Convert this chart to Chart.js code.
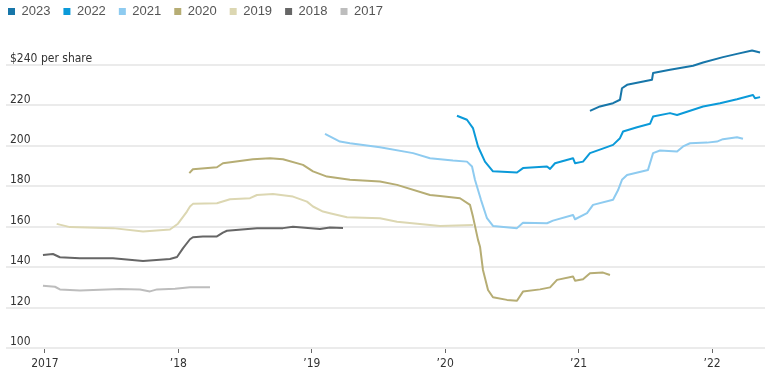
<!DOCTYPE html>
<html>
<head>
<meta charset="utf-8">
<script src="https://cdn.jsdelivr.net/npm/chart.js@4/dist/chart.umd.min.js"></script>
<style>
  html, body { margin: 0; padding: 0; background: #ffffff; overflow: hidden; width: 768px; height: 373px; }
  #wrap { position: absolute; left: -5px; top: -8px; width: 773px; height: 381px; }
</style>
</head>
<body>
<div id="wrap"><canvas id="c" width="773" height="381"></canvas></div>
<script>
// ---- Data (x = decimal year, y = $ per share) ----
const seriesNames = ['2023', '2022', '2021', '2020', '2019', '2018', '2017'];
const seriesColors = ['#1776a9', '#0b9ad9', '#8ecbf0', '#b6ad74', '#dcd7b2', '#666666', '#bdbdbd'];

const years2017 = [2016.985, 2017.075, 2017.112, 2017.262, 2017.412, 2017.562, 2017.712, 2017.787, 2017.84, 2017.975, 2018.087, 2018.237];
const values2017 = [130.8, 130.3, 129.0, 128.4, 128.8, 129.2, 128.9, 128.0, 129.0, 129.3, 130.0, 130.0];

const years2018 = [2016.985, 2017.06, 2017.112, 2017.262, 2017.51, 2017.735, 2017.937, 2017.99, 2018.034, 2018.087, 2018.109, 2018.184, 2018.289, 2018.334, 2018.364, 2018.589, 2018.784, 2018.859, 2019.061, 2019.136, 2019.234];
const values2018 = [146.0, 146.5, 144.9, 144.4, 144.4, 143.0, 144.0, 145.0, 149.3, 153.8, 154.8, 155.1, 155.2, 157.1, 158.0, 159.3, 159.3, 160.0, 158.9, 159.6, 159.4];

const years2019 = [2017.088, 2017.187, 2017.51, 2017.735, 2017.937, 2017.997, 2018.064, 2018.087, 2018.109, 2018.289, 2018.387, 2018.537, 2018.589, 2018.709, 2018.859, 2018.964, 2019.009, 2019.084, 2019.136, 2019.264, 2019.511, 2019.639, 2019.886, 2019.961, 2020.208];
const values2019 = [161.4, 159.8, 159.3, 157.6, 158.6, 161.5, 167.5, 170.0, 171.3, 171.6, 173.6, 174.1, 175.7, 176.2, 174.9, 172.4, 170.0, 167.5, 166.7, 164.7, 164.2, 162.5, 160.9, 160.4, 160.9];

const years2020 = [2018.082, 2018.109, 2018.289, 2018.334, 2018.559, 2018.687, 2018.784, 2018.934, 2019.009, 2019.114, 2019.286, 2019.511, 2019.639, 2019.886, 2019.961, 2020.111, 2020.186, 2020.208, 2020.246, 2020.261, 2020.283, 2020.321, 2020.358, 2020.463, 2020.538, 2020.583, 2020.711, 2020.786, 2020.838, 2020.958, 2020.973, 2021.033, 2021.085, 2021.183, 2021.235];
const values2020 = [186.5, 188.4, 189.4, 191.4, 193.4, 193.9, 193.4, 190.6, 187.4, 184.8, 183.2, 182.4, 180.7, 175.7, 175.2, 174.1, 170.8, 165.0, 153.5, 150.1, 138.6, 128.7, 125.1, 123.8, 123.4, 127.9, 129.0, 130.0, 133.7, 135.4, 133.3, 134.0, 137.0, 137.3, 136.1];

const years2021 = [2019.099, 2019.211, 2019.286, 2019.511, 2019.759, 2019.886, 2020.058, 2020.163, 2020.201, 2020.223, 2020.268, 2020.313, 2020.358, 2020.538, 2020.583, 2020.763, 2020.808, 2020.958, 2020.973, 2021.063, 2021.108, 2021.258, 2021.295, 2021.325, 2021.363, 2021.52, 2021.558, 2021.61, 2021.738, 2021.783, 2021.835, 2021.963, 2022.037, 2022.082, 2022.187, 2022.232];
const values2021 = [205.9, 202.1, 201.3, 199.3, 196.4, 193.9, 192.7, 192.2, 189.8, 183.2, 173.3, 164.2, 160.4, 159.3, 162.0, 161.7, 163.0, 165.8, 163.7, 166.7, 170.8, 173.3, 178.0, 183.2, 185.6, 188.1, 196.4, 197.7, 197.2, 199.7, 201.3, 201.6, 202.1, 203.3, 204.3, 203.5];

const years2022 = [2020.088, 2020.163, 2020.208, 2020.246, 2020.298, 2020.358, 2020.538, 2020.583, 2020.763, 2020.786, 2020.823, 2020.958, 2020.973, 2021.033, 2021.085, 2021.175, 2021.258, 2021.31, 2021.333, 2021.438, 2021.535, 2021.558, 2021.685, 2021.738, 2021.933, 2022.06, 2022.187, 2022.307, 2022.322, 2022.36];
const values2022 = [214.9, 212.9, 208.8, 199.7, 192.2, 187.4, 186.8, 189.0, 189.8, 188.6, 191.4, 193.9, 191.4, 192.2, 196.4, 198.5, 200.5, 203.8, 207.1, 209.2, 210.9, 214.5, 216.2, 215.3, 219.5, 221.1, 223.1, 225.2, 223.6, 224.1];

const years2023 = [2021.085, 2021.16, 2021.258, 2021.31, 2021.325, 2021.363, 2021.55, 2021.558, 2021.685, 2021.858, 2021.933, 2022.082, 2022.187, 2022.3, 2022.36];
const values2023 = [217.3, 219.5, 221.1, 222.8, 228.5, 230.2, 232.7, 236.0, 237.6, 239.6, 241.2, 243.9, 245.5, 247.2, 246.2];

const xTickValues = [2017, 2018, 2019, 2020, 2021, 2022];
const xTickLabels = ['2017', '\u201918', '\u201919', '\u201920', '\u201921', '\u201922'];
const yTickValues = [100, 120, 140, 160, 180, 200, 220, 240];
const yTickLabels = ['100', '120', '140', '160', '180', '200', '220', '$240 per share'];

const seriesYears = [years2023, years2022, years2021, years2020, years2019, years2018, years2017];
const seriesValues = [values2023, values2022, values2021, values2020, values2019, values2018, values2017];

const datasets = seriesNames.map((name, i) => ({
  label: name,
  data: seriesYears[i].map((x, j) => ({ x: x, y: seriesValues[i][j] })),
  borderColor: seriesColors[i],
  backgroundColor: seriesColors[i],
  borderWidth: 2,
  pointRadius: 0,
  pointHoverRadius: 0,
  tension: 0,
  borderJoinStyle: 'round',
  fill: false,
  clip: false
}));

const narrow = '"Liberation Sans Narrow", "DejaVu Sans Condensed", "Liberation Sans", sans-serif';

new Chart(document.getElementById('c'), {
  type: 'line',
  data: { datasets: datasets },
  options: {
    responsive: false,
    animation: false,
    devicePixelRatio: 1,
    layout: { padding: { left: 0, right: 3, top: 0, bottom: 0 } },
    plugins: {
      tooltip: { enabled: false },
      legend: {
        display: true,
        position: 'top',
        align: 'start',
        labels: {
          boxWidth: 7,
          boxHeight: 7,
          padding: 13,
          color: '#555555',
          font: { family: '"Liberation Sans", Arial, sans-serif', size: 13 },
          generateLabels: (chart) => Chart.defaults.plugins.legend.labels.generateLabels(chart).map(it => Object.assign(it, { lineWidth: 0, fillStyle: it.strokeStyle }))
        }
      },
      title: {
        display: true,
        text: '',
        weight: 500,
        position: 'top',
        padding: 0,
        font: { size: 10, lineHeight: '37px' }
      }
    },
    scales: {
      x: {
        type: 'linear',
        min: 2016.708,
        max: 2022.397,
        afterBuildTicks: (axis) => { axis.ticks = xTickValues.map(v => ({ value: v })); },
        afterFit: (axis) => { axis.height = 25; },
        border: { display: false },
        grid: { drawOnChartArea: false, drawTicks: true, tickLength: 5, tickColor: '#666666', tickWidth: 1 },
        ticks: {
          padding: 4,
          maxRotation: 0,
          color: '#333333',
          font: { family: narrow, size: 12 },
          callback: (value, index) => xTickLabels[index]
        }
      },
      y: {
        type: 'linear',
        position: 'left',
        min: 100,
        max: 240,
        afterBuildTicks: (axis) => { axis.ticks = yTickValues.map(v => ({ value: v })); },
        afterFit: (axis) => { axis.width = 11; },
        border: { display: false },
        grid: { drawTicks: false, color: '#ebebeb', lineWidth: 2 },
        ticks: {
          mirror: true,
          padding: 4,
          labelOffset: -6,
          color: '#333333',
          font: { family: narrow, size: 12 },
          callback: (value, index) => yTickLabels[index]
        }
      }
    }
  }
});
</script>
</body>
</html>
